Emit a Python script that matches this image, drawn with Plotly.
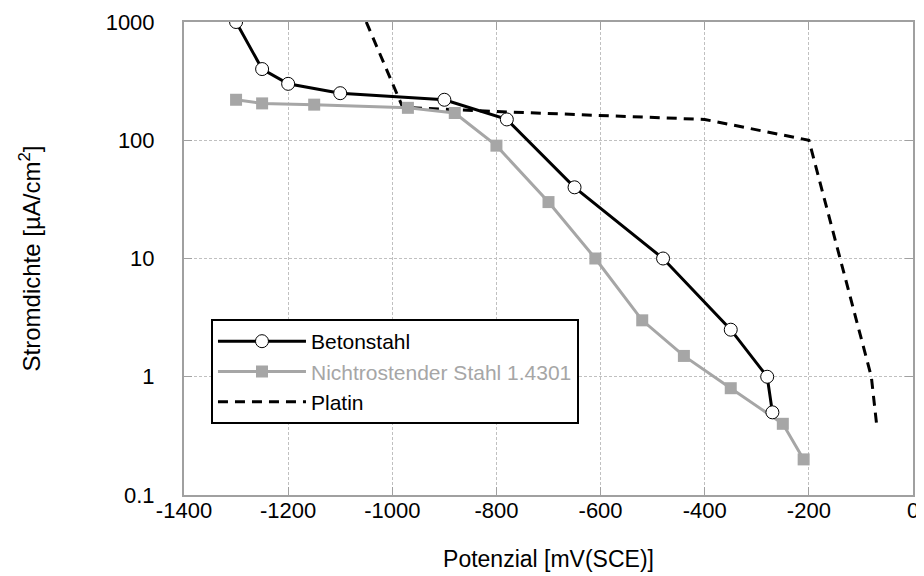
import plotly.graph_objects as go

# Betonstahl (black line, open circles)
beton_x = [-1300, -1250, -1200, -1100, -900, -780, -650, -480, -350, -280, -270]
beton_y = [1000, 400, 300, 250, 220, 150, 40, 10, 2.5, 1, 0.5]

# Nichtrostender Stahl 1.4301 (grey line, squares)
niro_x = [-1300, -1250, -1150, -970, -880, -800, -700, -610, -520, -440, -350, -250, -210]
niro_y = [220, 205, 200, 188, 170, 90, 30, 10, 3, 1.5, 0.8, 0.4, 0.2]

# Platin (dashed)
platin_x = [-1050, -980, -800, -400, -200, -80, -70]
platin_y = [1000, 190, 175, 150, 100, 1, 0.4]

x_ticks = [-1400, -1200, -1000, -800, -600, -400, -200, 0]
x_labels = ["-1400", "-1200", "-1000", "-800", "-600", "-400", "-200", "0"]
y_ticks = [0.1, 1, 10, 100, 1000]
y_labels = ["0.1", "1", "10", "100", "1000"]

GREY = "#a6a6a6"
FONT = "Liberation Sans, Arial, sans-serif"

fig = go.Figure()

fig.add_trace(go.Scatter(
    x=platin_x, y=platin_y, name="Platin", mode="lines",
    line=dict(color="black", width=3, dash="10px,7px"),
    legendrank=3,
))
# legend text of this series is grey in the original
fig.add_trace(go.Scatter(
    x=niro_x, y=niro_y,
    name=f"<span style='color:{GREY}'>Nichtrostender Stahl 1.4301</span>",
    mode="lines+markers",
    line=dict(color=GREY, width=3),
    marker=dict(symbol="square", size=12, color=GREY),
    legendrank=2,
))
fig.add_trace(go.Scatter(
    x=beton_x, y=beton_y, name="Betonstahl", mode="lines+markers",
    line=dict(color="black", width=3),
    marker=dict(symbol="circle", size=13, color="white", line=dict(color="black", width=1)),
    legendrank=1,
))

axis_common = dict(
    showline=True, linecolor="#a0a0a0", linewidth=2, mirror="ticks",
    ticks="inside", ticklen=8, tickcolor="#a0a0a0",
    showgrid=True, gridcolor="#c0c0c0", gridwidth=1, griddash="3px,2px",
    zeroline=False, automargin=False,
    tickfont=dict(size=22, color="black"),
)

fig.update_xaxes(
    range=[-1400, 0], tickvals=x_ticks, ticktext=x_labels,
    ticklabelstandoff=-5,
    title=dict(text="Potenzial [mV(SCE)]", font=dict(size=23, color="black"), standoff=28),
    **axis_common,
)
fig.update_yaxes(
    type="log", range=[-1, 3], tickvals=y_ticks, ticktext=y_labels,
    ticklabelstandoff=23,
    title=dict(text="Stromdichte [µA/cm<sup>2</sup>]", font=dict(size=24, color="black"), standoff=58),
    **axis_common,
)

# page body has an 8px margin, so the figure is sized to fit the window
fig.update_layout(
    width=916, height=568,
    margin=dict(l=176, r=11, t=14, b=81),
    paper_bgcolor="white", plot_bgcolor="white",
    font=dict(family=FONT, color="black"),
    showlegend=True,
    legend=dict(
        x=0.037, y=0.372, xanchor="left", yanchor="top",
        bgcolor="white", bordercolor="black", borderwidth=2,
        font=dict(size=21),
        itemwidth=88,
        tracegroupgap=0,
    ),
)

fig.write_html("out.html")
